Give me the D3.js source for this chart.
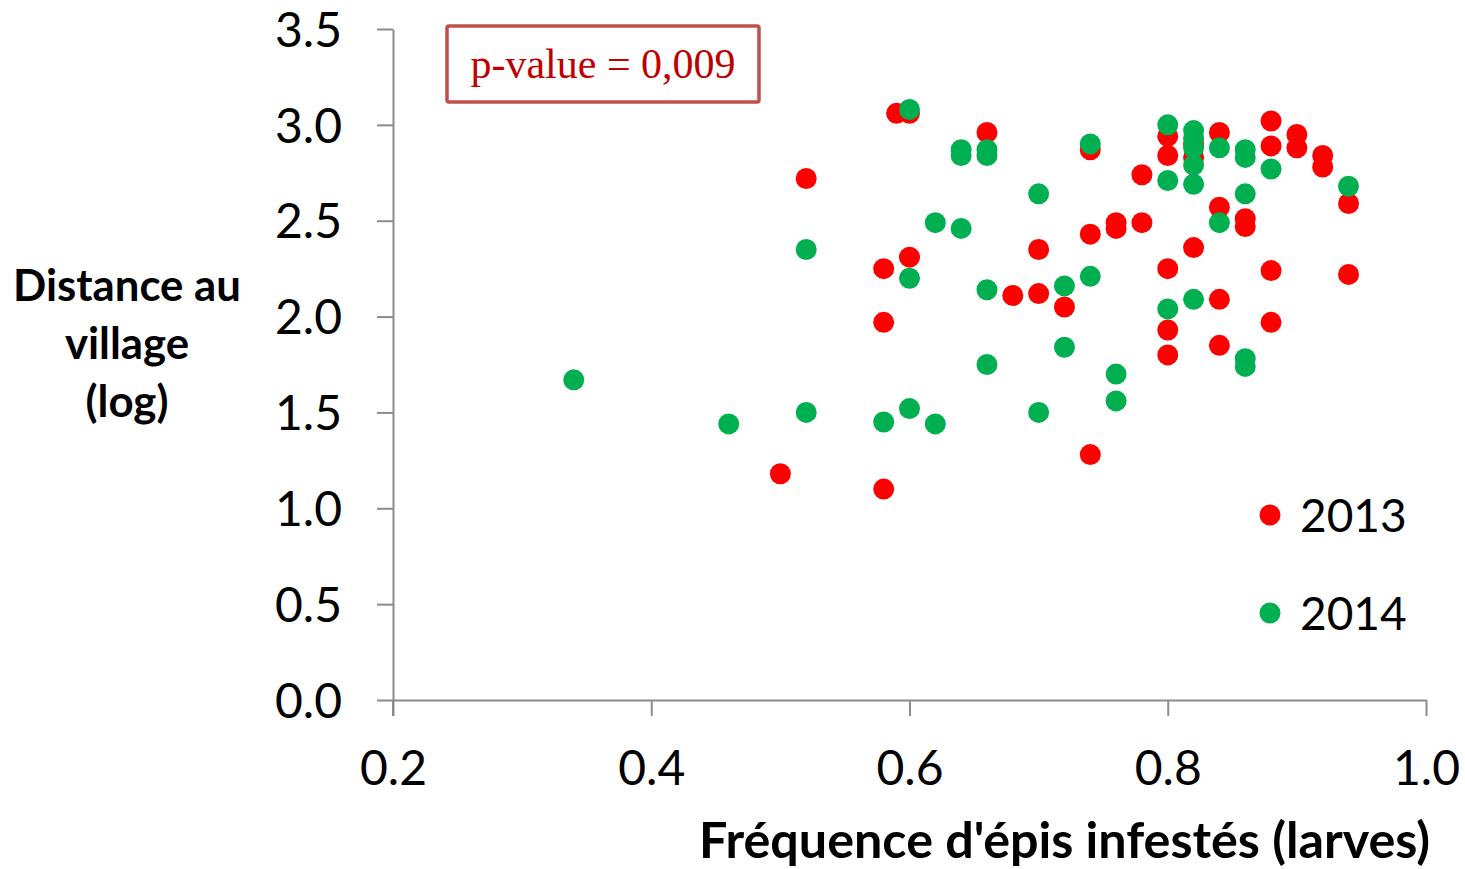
<!DOCTYPE html>
<html>
<head>
<meta charset="utf-8">
<script src="https://cdn.jsdelivr.net/npm/d3@7"></script>
<style>
  body { margin: 0; background: #fff; }
  svg { display: block; }
  .tick text { font-family: Lato, "Open Sans", sans-serif; }
</style>
</head>
<body>
<div id="chart"></div>
<script>
// Frequency of infested ears vs distance to village (log), per year
var data2013 = [
  [0.59, 3.06], [0.60, 3.06], [0.66, 2.96], [0.74, 2.87], [0.52, 2.72], [0.78, 2.74],
  [0.70, 2.35], [0.74, 2.43], [0.76, 2.49], [0.76, 2.46], [0.78, 2.49], [0.60, 2.31],
  [0.58, 2.25], [0.68, 2.11], [0.70, 2.12], [0.72, 2.05], [0.58, 1.97], [0.80, 2.25],
  [0.80, 1.93], [0.80, 1.80], [0.74, 1.28], [0.50, 1.18], [0.58, 1.10], [0.80, 2.94],
  [0.80, 2.84], [0.82, 2.90], [0.82, 2.83], [0.84, 2.96], [0.84, 2.57], [0.86, 2.51],
  [0.86, 2.47], [0.88, 3.02], [0.88, 2.89], [0.90, 2.95], [0.90, 2.88], [0.92, 2.84],
  [0.92, 2.78], [0.94, 2.59], [0.82, 2.36], [0.88, 2.24], [0.94, 2.22], [0.84, 2.09],
  [0.88, 1.97], [0.84, 1.85]
];
var data2014 = [
  [0.60, 3.08], [0.64, 2.87], [0.64, 2.84], [0.66, 2.87], [0.66, 2.84], [0.74, 2.90],
  [0.70, 2.64], [0.62, 2.49], [0.64, 2.46], [0.52, 2.35], [0.60, 2.20], [0.66, 2.14],
  [0.72, 2.16], [0.74, 2.21], [0.34, 1.67], [0.80, 2.04], [0.72, 1.84], [0.66, 1.75],
  [0.76, 1.70], [0.76, 1.56], [0.70, 1.50], [0.46, 1.44], [0.52, 1.50], [0.58, 1.45],
  [0.60, 1.52], [0.62, 1.44], [0.80, 3.00], [0.80, 2.71], [0.82, 2.97], [0.82, 2.93],
  [0.82, 2.88], [0.82, 2.79], [0.82, 2.69], [0.84, 2.88], [0.86, 2.87], [0.86, 2.83],
  [0.86, 2.64], [0.84, 2.49], [0.88, 2.77], [0.94, 2.68], [0.82, 2.09], [0.86, 1.78],
  [0.86, 1.74]
];
var xTicks = [0.2, 0.4, 0.6, 0.8, 1.0];
var yTicks = [0, 0.5, 1, 1.5, 2, 2.5, 3, 3.5];
var seriesNames = ["2013", "2014"];
var seriesColors = ["#ff0000", "#00b050"];
var pValueLabel = "p-value = 0,009";

var width = 1465, height = 869;
var margin = { top: 29, right: 39, bottom: 169, left: 393 };

var svg = d3.select("#chart").append("svg")
    .attr("width", width)
    .attr("height", height);

var x = d3.scaleLinear().domain([0.2, 1.0]).range([margin.left, width - margin.right]);
var y = d3.scaleLinear().domain([0, 3.5]).range([height - margin.bottom, margin.top]);

// Shrink or grow a text's font so it spans the given width
function fitWidth(text, target) {
  var size = parseFloat(text.style("font-size"));
  var w = text.node().getBBox().width;
  text.style("font-size", (size * target / w) + "px");
}

// Axes
var xAxis = svg.append("g")
    .attr("transform", `translate(0,${y(0)})`)
    .call(d3.axisBottom(x).tickValues(xTicks).tickFormat(d3.format(".1f"))
      .tickSizeInner(16).tickSizeOuter(0).tickPadding(35));
var yAxis = svg.append("g")
    .attr("transform", `translate(${x(0.2)},0)`)
    .call(d3.axisLeft(y).tickValues(yTicks).tickFormat(d3.format(".1f"))
      .tickSizeInner(16).tickSizeOuter(0).tickPadding(35));

[xAxis, yAxis].forEach(function(a) {
  a.select(".domain").attr("stroke", "#8c8c8c").attr("stroke-width", 2);
  a.selectAll(".tick line").attr("stroke", "#8c8c8c").attr("stroke-width", 2);
  a.selectAll(".tick text").attr("fill", "#000").style("font-size", "48px");
});
yAxis.selectAll(".tick text").attr("dy", "0.36em");

// y axis continues below the x axis like the tick marks
svg.append("line")
    .attr("x1", x(0.2)).attr("x2", x(0.2))
    .attr("y1", y(0)).attr("y2", y(0) + 16)
    .attr("stroke", "#8c8c8c").attr("stroke-width", 2);

// Points: 2013 first, 2014 drawn over it
[data2013, data2014].forEach(function(series, i) {
  svg.append("g")
    .selectAll("circle")
    .data(series)
    .enter()
      .append("circle")
        .attr("cx", function(d) { return x(d[0]); })
        .attr("cy", function(d) { return y(d[1]); })
        .attr("r", 10.5)
        .attr("fill", seriesColors[i]);
});

// Legend
var legend = svg.append("g").attr("transform", "translate(1270,515)");
seriesNames.forEach(function(name, i) {
  legend.append("circle")
    .attr("cx", 0).attr("cy", i * 98)
    .attr("r", 10.5)
    .attr("fill", seriesColors[i]);
  legend.append("text")
    .attr("x", 30).attr("y", i * 98)
    .attr("dy", "0.36em")
    .style("font-family", "Lato, 'Open Sans', sans-serif")
    .style("font-size", "46px")
    .text(name);
});

// p-value box
svg.append("rect")
    .attr("x", 447).attr("y", 26)
    .attr("width", 312).attr("height", 76)
    .attr("rx", 2)
    .attr("fill", "#fff")
    .attr("stroke", "#c0504d")
    .attr("stroke-width", 3.5);
svg.append("text")
    .attr("x", 603).attr("y", 78)
    .attr("text-anchor", "middle")
    .attr("fill", "#c00000")
    .style("font-family", "'Liberation Serif', 'Times New Roman', serif")
    .style("font-size", "42px")
    .text(pValueLabel);

// Axis titles
var xTitle = svg.append("text")
    .attr("x", 1430).attr("y", 858)
    .attr("text-anchor", "end")
    .style("font-family", "Lato, 'Open Sans', sans-serif")
    .style("font-weight", "bold")
    .style("font-size", "40px")
    .text("Fréquence d'épis infestés (larves)");
fitWidth(xTitle, 731);

var yTitle = svg.append("text")
    .attr("text-anchor", "middle")
    .style("font-family", "Lato, 'Open Sans', sans-serif")
    .style("font-weight", "bold")
    .style("font-size", "38px");
["Distance au", "village", "(log)"].forEach(function(line, i) {
  yTitle.append("tspan")
    .attr("x", 127)
    .attr("y", 301 + i * 58)
    .text(line);
});
fitWidth(yTitle, 228);
</script>
</body>
</html>
